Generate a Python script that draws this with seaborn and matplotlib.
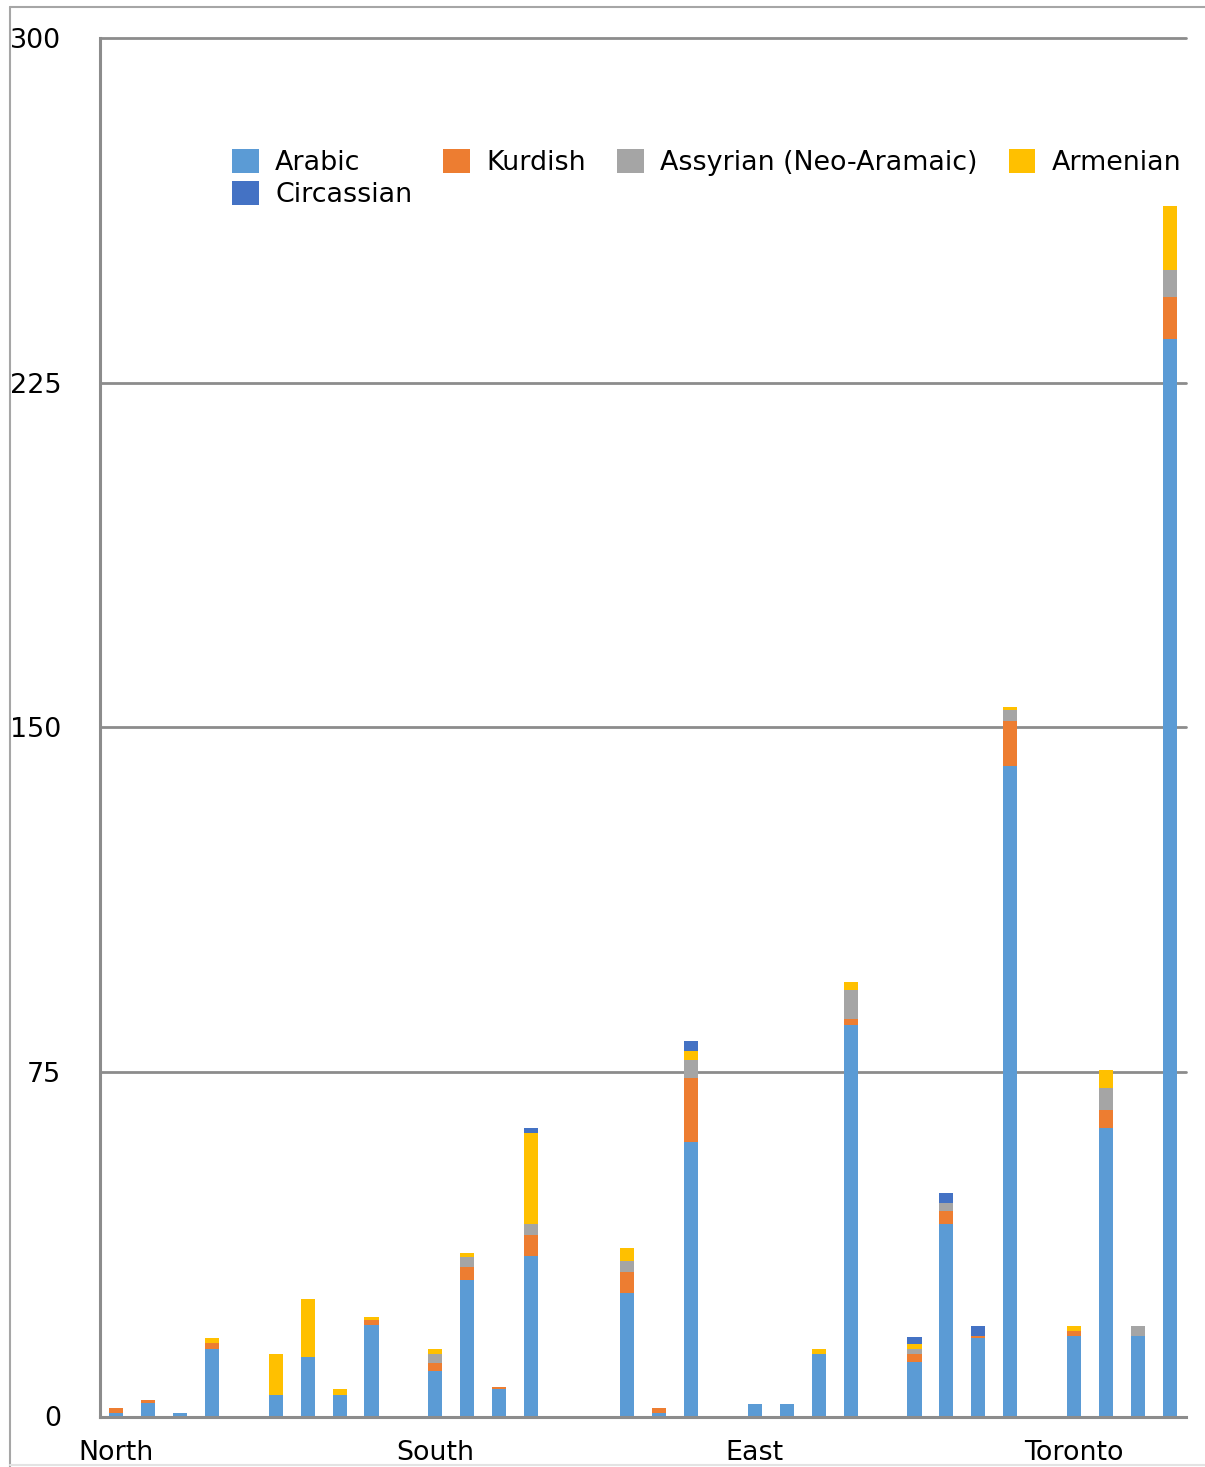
import numpy as np
import pandas as pd
import matplotlib
matplotlib.use("Agg")
import matplotlib.pyplot as plt
from matplotlib.patches import Patch
from matplotlib.lines import Line2D
import seaborn as sns

# Regions; each region groups up to ten neighbourhood slots
regions = ["North", "South", "East", "Toronto"]
slots_per_region = [10, 10, 10, 4]

languages = ["Arabic", "Kurdish", "Assyrian (Neo-Aramaic)", "Armenian", "Circassian"]

arabic = [0.7, 2.9, 0.8, 14.7, 0, 4.7, 12.9, 4.7, 19.9, 0,
          10.0, 29.6, 5.9, 34.9, 0, 0, 26.8, 0.7, 59.8, 0,
          2.8, 2.8, 13.5, 85.3, 0, 11.8, 41.8, 17.0, 141.6, 0,
          17.5, 62.7, 17.5, 234.6]
kurdish = [1.2, 0.7, 0, 1.2, 0, 0, 0, 0, 1.1, 0,
           1.75, 3.0, 0.45, 4.7, 0, 0, 4.6, 1.1, 13.9, 0,
           0, 0, 0, 1.3, 0, 1.7, 3.0, 0.45, 9.8, 0,
           1.2, 4.1, 0, 9.1]
assyrian = [0, 0, 0, 0, 0, 0, 0, 0, 0, 0,
            1.75, 2.2, 0, 2.2, 0, 0, 2.4, 0, 3.9, 0,
            0, 0, 0, 6.3, 0, 1.1, 1.7, 0, 2.4, 0,
            0, 4.6, 2.3, 5.9]
armenian = [0, 0, 0, 1.2, 0, 8.9, 12.6, 1.3, 0.65, 0,
            1.1, 0.7, 0, 19.8, 0, 0, 2.8, 0, 2.0, 0,
            0, 0, 1.1, 1.7, 0, 1.1, 0, 0, 0.7, 0,
            1.1, 4.1, 0, 13.9]
circassian = [0, 0, 0, 0, 0, 0, 0, 0, 0, 0,
              0, 0, 0, 1.1, 0, 0, 0, 0, 2.2, 0,
              0, 0, 0, 0, 0, 1.7, 2.2, 2.3, 0, 0,
              0, 0, 0, 0]

y_ticks = [0, 75, 150, 225, 300]

colors = {
    "Arabic": "#5B9BD5",
    "Kurdish": "#ED7D31",
    "Assyrian (Neo-Aramaic)": "#A5A5A5",
    "Armenian": "#FFC000",
    "Circassian": "#4472C4",
}

# Long-form table: one row per slot and language
series = [arabic, kurdish, assyrian, armenian, circassian]
n_slots = len(arabic)
slot_region = np.repeat(regions, slots_per_region)
rows = []
for lang, vals in zip(languages, series):
    for i, v in enumerate(vals):
        rows.append({"slot": i, "region": slot_region[i], "language": lang, "value": v})
df = pd.DataFrame(rows)

sns.set_style("white")
plt.rcParams["font.family"] = ["DejaVu Sans"]
plt.rcParams["text.color"] = "black"

FS = 19.4
GRID = "#8c8c8c"

fig = plt.figure(figsize=(12.05, 14.67), dpi=100)
W, H = 1205, 1467
ax = fig.add_axes([100 / W, 1 - 1416.5 / H, 1086 / W, 1378.5 / H])

# seaborn stacks the last hue level at the bottom, so pass the order reversed
sns.histplot(data=df, x="slot", weights="value", hue="language",
             hue_order=languages[::-1], palette=colors, multiple="stack",
             discrete=True, shrink=0.44, alpha=1, linewidth=0,
             edgecolor="none", legend=False, ax=ax, zorder=3)

ax.set_xlim(-0.5, n_slots - 0.5)
ax.set_ylim(0, 300)
ax.set_xlabel("")
ax.set_ylabel("")

# Horizontal gridlines
for y in y_ticks[1:]:
    ax.axhline(y, color=GRID, lw=2.0, clip_on=False, zorder=1)

for s in ["top", "right"]:
    ax.spines[s].set_visible(False)
for s in ["left", "bottom"]:
    ax.spines[s].set_color(GRID)
    ax.spines[s].set_linewidth(2.2)
    ax.spines[s].set_zorder(4)

ax.set_yticks(y_ticks)
ax.set_yticklabels([str(v) for v in y_ticks])
ax.tick_params(axis="y", which="major", direction="out", length=5.8,
               width=2.0, color=GRID, pad=22, labelsize=FS, labelcolor="black")

# Region labels under the first slot of each region, slot boundaries as ticks
starts = np.cumsum([0] + slots_per_region[:-1])
ax.set_xticks(starts)
ax.set_xticklabels(regions)
ax.set_xticks(np.arange(-0.5, n_slots, 1.0), minor=True)
ax.tick_params(axis="x", which="major", length=0, pad=17, labelsize=FS,
               labelcolor="black")
ax.tick_params(axis="x", which="minor", direction="out", length=6,
               width=2.0, color=GRID)

handles = [Patch(facecolor=colors[l], edgecolor="none", label=l) for l in languages]
order = [0, 4, 1, 2, 3]
fig.legend([handles[i] for i in order], [languages[i] for i in order],
           loc="upper left", bbox_to_anchor=(232 / W, 1 - 149 / H),
           ncol=4, frameon=False, fontsize=FS, borderpad=0, borderaxespad=0,
           handlelength=1.0, handleheight=1.0, handletextpad=0.6,
           columnspacing=1.15, labelspacing=0.18, labelcolor="black")

# Chart-area frame
fig.add_artist(Line2D([9.5 / W, 9.5 / W], [0, 1 - 7 / H], color="#a6a6a6", lw=1.5,
                      transform=fig.transFigure))
fig.add_artist(Line2D([9.5 / W, 1], [1 - 7 / H, 1 - 7 / H], color="#a6a6a6", lw=1.5,
                      transform=fig.transFigure))
fig.add_artist(Line2D([9.5 / W, 1], [1 - 1465 / H, 1 - 1465 / H], color="#e3e3e3",
                      lw=1.5, transform=fig.transFigure))

fig.savefig("out.png", dpi=100, facecolor="white")
